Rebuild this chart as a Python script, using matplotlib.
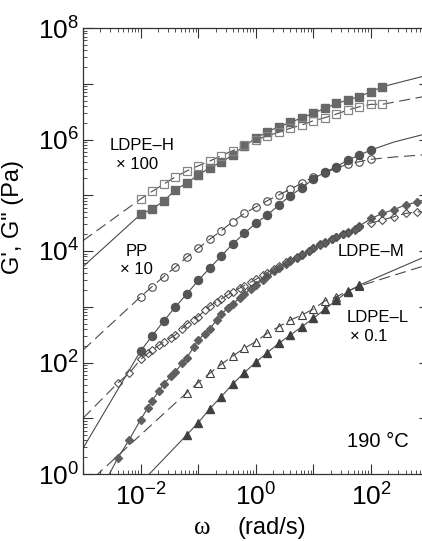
import math
import matplotlib
matplotlib.use('Agg')
import matplotlib.pyplot as plt
from matplotlib.ticker import LogLocator, FuncFormatter, NullFormatter

plt.rcParams['font.family'] = 'Liberation Sans'
plt.rcParams['mathtext.default'] = 'regular'

# frequency (rad/s)
w_h = [0.01, 0.0158, 0.0251, 0.0398, 0.0631, 0.1, 0.158, 0.251, 0.398, 0.631,
       1.0, 1.58, 2.51, 3.98, 6.31, 10, 15.8, 25.1, 39.8, 63.1, 100, 158]
w_pp = w_h[:21]
w_m_a = [0.00398, 0.00631, 0.01, 0.0158, 0.0251, 0.0398, 0.0631, 0.1, 0.158,
         0.251, 0.398, 0.631, 1.0, 1.58, 2.51, 3.98, 6.31, 10, 15.8, 25.1,
         39.8, 63.1, 100, 158, 251, 398, 631]
w_m_b = [0.0132, 0.0209, 0.0331, 0.0525, 0.0832, 0.132, 0.209, 0.331, 0.525,
         0.832, 1.32, 2.09, 3.31, 5.25, 8.32, 13.2, 20.9, 33.1, 52.5]
w_l = [0.0631, 0.1, 0.158, 0.251, 0.398, 0.631, 1.0, 1.58, 2.51, 3.98, 6.31,
       10, 15.8, 25.1, 39.8, 63.1]

# moduli (Pa), before shifting
gp_h = [455, 566, 782, 1240, 1660, 2310, 3120, 3900, 5270, 7740, 10500, 13800,
        17000, 20200, 24600, 29500, 36300, 44300, 51200, 59000, 71900, 88500]
gpp_h = [857, 1170, 1580, 2120, 2720, 3370, 4100, 5120, 6300, 7960, 9790, 11600,
         13500, 15900, 18200, 21700, 24600, 28600, 33800, 38700, 42800, 42800]
gp_pp = [16.1, 29.9, 55.1, 98.2, 169, 296, 490, 813, 1340, 2070, 3140, 4430,
         6680, 9820, 13600, 19700, 25800, 32500, 42900, 52700, 64900]
gpp_pp = [151, 229, 346, 511, 771, 1120, 1620, 2310, 3360, 4710, 6150, 7980,
          10100, 12900, 16400, 21500, 25400, 30400, 36400, 40000, 44200]
gp_m_a = [1.90, 4.07, 9.46, 20.4, 41.1, 67.6, 120, 254, 399, 741, 1120, 1690,
          2450, 3490, 4950, 6620, 8470, 11100, 14500, 17500, 21900, 28100,
          38300, 47100, 55500, 66800, 75700]
gpp_m_a = [42.4, 64.0, 114, 167, 233, 311, 491, 668, 1030, 1380, 1860, 2400,
           3100, 4110, 5380, 6900, 8830, 11300, 14200, 18200, 21000, 26900,
           31800, 36000, 41200, 47100, 50700]
gp_m_b = [15.3, 30.8, 57.3, 97.9, 190, 324, 578, 951, 1440, 2080, 3020, 4290,
          5850, 7640, 10000, 13100, 16100, 20200, 24800]
gpp_m_b = [148, 206, 275, 399, 578, 875, 1220, 1660, 2170, 2780, 3720, 4850,
           6220, 7960, 10200, 12800, 16400, 19800, 24300]
gp_l = [50.1, 83.2, 147, 244, 411, 656, 1010, 1500, 2210, 3110, 4390, 6210,
        8990, 13200, 18600, 24500]
gpp_l = [287, 435, 640, 929, 1310, 1800, 2360, 3340, 4390, 5780, 7110, 9120,
         12700, 15100, 19200, 23600]

# shift factors
shift_h = 100
shift_pp = 10
shift_m = 1
shift_l = 0.1

# model curves beyond the data: start point, extra end points (w, G)
h_fit_lo = [(0.001, 52.4), (0.001, 153)]
h_fit_hi = [[(1000, 144000)], [(1000, 61100)]]
pp_fit_lo = [(0.001, 0.289), (0.001, 16.7)]
pp_fit_hi = [[(251, 90200), (1000, 130000)], [(251, 48500), (1000, 53800)]]
m_fit_lo = [(0.0025, 0.76), (0.001, 10.0)]
m_fit_hi = [[(1000, 89000)], [(1000, 49000)]]
l_fit_lo = [(0.0126, 8.8), (0.00158, 8.8)]
l_fit_hi = [[(1000, 84100)], [(1000, 57300)]]

fig = plt.figure(figsize=(4.22, 5.41), dpi=100)
ax = fig.add_axes([83 / 422, 1 - 474 / 541, 345.6 / 422, 446 / 541])

line_c = '#4a4a4a'


def fit_line(w, g, lo, hi, shift, ls):
    ww = [lo[0]] + list(w) + [p[0] for p in hi]
    gg = [lo[1]] + list(g) + [p[1] for p in hi]
    gg = [v * shift for v in gg]
    if ls == 'solid':
        ax.plot(ww, gg, '-', color=line_c, lw=0.8, zorder=1)
    else:
        ax.plot(ww, gg, '-', color=line_c, lw=0.8, dashes=(10, 5), zorder=1)


fit_line(w_h, gp_h, h_fit_lo[0], h_fit_hi[0], shift_h, 'solid')
fit_line(w_h, gpp_h, h_fit_lo[1], h_fit_hi[1], shift_h, 'dash')
fit_line(w_pp, gp_pp, pp_fit_lo[0], pp_fit_hi[0], shift_pp, 'solid')
fit_line(w_pp, gpp_pp, pp_fit_lo[1], pp_fit_hi[1], shift_pp, 'dash')
fit_line(w_m_a, gp_m_a, m_fit_lo[0], m_fit_hi[0], shift_m, 'solid')
fit_line(w_m_a, gpp_m_a, m_fit_lo[1], m_fit_hi[1], shift_m, 'dash')
fit_line(w_l, gp_l, l_fit_lo[0], l_fit_hi[0], shift_l, 'solid')
fit_line(w_l, gpp_l, l_fit_lo[1], l_fit_hi[1], shift_l, 'dash')


def sc(v, s):
    return [x * s for x in v]


# LDPE-H
ax.plot(w_h, sc(gp_h, shift_h), 's', ms=5.6, color='#686868', mec='#686868', zorder=3)
ax.plot(w_h, sc(gpp_h, shift_h), 's', ms=5.2, mfc='none', mec='#858585', mew=0.9, zorder=3)
# PP
ax.plot(w_pp, sc(gp_pp, shift_pp), 'o', ms=5.8, color='#555555', zorder=3)
ax.plot(w_pp, sc(gpp_pp, shift_pp), 'o', ms=5.4, mfc='none', mec='#4a4a4a', mew=0.8, zorder=3)
# LDPE-M
for w, gp, gpp in [(w_m_a, gp_m_a, gpp_m_a), (w_m_b, gp_m_b, gpp_m_b)]:
    ax.plot(w, sc(gp, shift_m), 'D', ms=4.0, color='#606060', zorder=3)
    ax.plot(w, sc(gpp, shift_m), 'D', ms=3.8, mfc='none', mec='#505050', mew=0.8, zorder=3)
# LDPE-L
ax.plot(w_l, sc(gp_l, shift_l), '^', ms=6.0, color='#404040', zorder=3)
ax.plot(w_l, sc(gpp_l, shift_l), '^', ms=5.8, mfc='none', mec='#404040', mew=0.8, zorder=3)

ax.set_xscale('log')
ax.set_yscale('log')
ax.set_xlim(1e-3, 1e3)
ax.set_ylim(1, 1e8)


def even_dec(v, pos):
    e = int(round(math.log10(v)))
    if e % 2:
        return ''
    return r'$10^{%d}$' % e


ax.xaxis.set_major_locator(LogLocator(base=10, numticks=20))
ax.yaxis.set_major_locator(LogLocator(base=10, numticks=20))
ax.xaxis.set_minor_locator(LogLocator(base=10, subs=range(2, 10), numticks=20))
ax.yaxis.set_minor_locator(LogLocator(base=10, subs=range(2, 10), numticks=20))
ax.xaxis.set_major_formatter(FuncFormatter(even_dec))
ax.yaxis.set_major_formatter(FuncFormatter(even_dec))
ax.xaxis.set_minor_formatter(NullFormatter())
ax.yaxis.set_minor_formatter(NullFormatter())

ax.tick_params(which='both', direction='in', top=True, right=True, color='#333333')
ax.tick_params(which='major', length=7, width=0.8, labelsize=19, pad=3)
ax.tick_params(axis='x', which='major', pad=7)
ax.tick_params(which='minor', length=3.2, width=0.6)
for s in ax.spines.values():
    s.set_linewidth(0.9)
    s.set_color('#333333')

ax.set_ylabel('G\', G" (Pa)', fontsize=17)
ax.yaxis.set_label_coords(-0.171, 0.576)

fig.text(202 / 422, 1 - 528 / 541, '\u03c9', family='Liberation Serif', fontsize=18,
         ha='center', va='center')
fig.text(271.7 / 422, 1 - 528 / 541, '(rad/s)', fontsize=17, ha='center', va='center')

labels = [
    (110, 145, 'LDPE\u2013H', 12), (116, 164, '\u00d7 100', 12),
    (126, 251.5, 'PP', 12), (120, 270, '\u00d7 10', 12),
    (338, 251, 'LDPE\u2013M', 12),
    (347, 317.5, 'LDPE\u2013L', 12), (350.5, 336.5, '\u00d7 0.1', 12),
    (347, 441.5, '190 \u00b0C', 14.5),
]
for x, y, t, fs in labels:
    fig.text(x / 422, 1 - y / 541, t, fontsize=fs, ha='left', va='center')

fig.savefig('out.png', dpi=100)
